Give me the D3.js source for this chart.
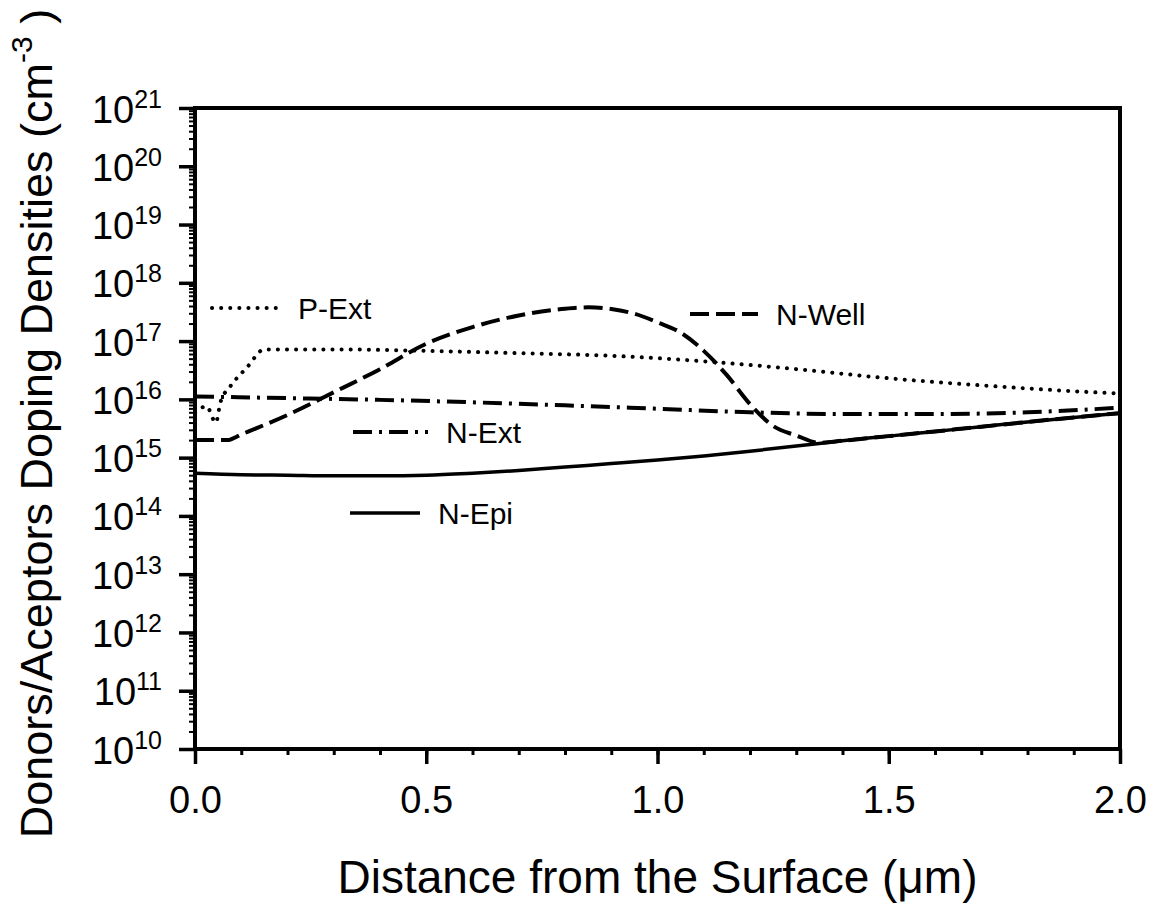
<!DOCTYPE html>
<html>
<head>
<meta charset="utf-8">
<script src="https://cdn.jsdelivr.net/npm/d3@7"></script>
<style>
  body { margin: 0; background: #fff; }
  text { font-family: "Liberation Sans", Arial, sans-serif; fill: #000; }
</style>
</head>
<body>
<svg id="chart" width="1159" height="911"></svg>
<script>
// ---- data (x in µm, doping in cm^-3) ----
const nEpiX = [0, 0.1, 0.2, 0.3, 0.4, 0.5, 0.6, 0.7, 0.8, 0.9, 1.0, 1.1, 1.2, 1.3, 1.4, 1.5, 1.6, 1.7, 1.8, 1.9, 2.0];
const nEpiY = [5.4e14, 5.1e14, 5.0e14, 4.9e14, 4.9e14, 5.0e14, 5.4e14, 6.0e14, 6.9e14, 7.9e14, 9.1e14, 1.07e15, 1.29e15, 1.58e15, 1.95e15, 2.34e15, 2.82e15, 3.39e15, 4.1e15, 4.9e15, 5.8e15];

const nExtX = [0, 0.2, 0.4, 0.6, 0.8, 1.0, 1.2, 1.4, 1.6, 1.8, 2.0];
const nExtY = [1.12e16, 1.05e16, 9.8e15, 8.9e15, 7.9e15, 6.9e15, 6.0e15, 5.6e15, 5.6e15, 6.0e15, 7.2e15];

const pExtX = [0, 0.025, 0.045, 0.055, 0.076, 0.112, 0.15, 0.3, 0.5, 0.7, 0.9, 1.1, 1.3, 1.5, 1.7, 1.9, 2.0];
const pExtY = [6.0e15, 7.6e15, 4.0e15, 8.9e15, 1.66e16, 3.5e16, 7.2e16, 7.2e16, 6.8e16, 6.2e16, 5.6e16, 4.5e16, 3.3e16, 2.3e16, 1.74e16, 1.38e16, 1.26e16];

const nWellX = [0, 0.07, 0.1, 0.2, 0.3, 0.4, 0.5, 0.6, 0.7, 0.8, 0.85, 0.9, 0.95, 1.0, 1.05, 1.1, 1.15, 1.2, 1.25, 1.3, 1.35, 1.4, 1.5, 1.6, 1.7, 1.8, 1.9, 2.0];
const nWellY = [2.0e15, 2.0e15, 2.5e15, 5.4e15, 1.32e16, 3.3e16, 9.0e16, 1.74e17, 2.75e17, 3.6e17, 3.8e17, 3.55e17, 2.95e17, 2.1e17, 1.4e17, 6.8e16, 2.6e16, 8.3e15, 3.5e15, 2.4e15, 1.8e15, 1.95e15, 2.34e15, 2.82e15, 3.39e15, 4.1e15, 4.9e15, 5.8e15];

const seriesNames = ["P-Ext", "N-Well", "N-Ext", "N-Epi"];
const xTickLabels = [0, 0.5, 1.0, 1.5, 2.0];
const yExponents = [10, 11, 12, 13, 14, 15, 16, 17, 18, 19, 20, 21];
const xTitle = "Distance from the Surface (\u03BCm)";
const yTitle = "Donors/Aceptors Doping Densities (cm";

// ---- layout ----
const svg = d3.select("#chart");
const L = 195, R = 1120, T = 108, B = 749;

const x = d3.scaleLinear().domain([0, 2]).range([L, R]);
const y = d3.scaleLog().domain([1e10, 1e21]).range([B, T]);

const styles = {
  "P-Ext":  { dash: "0.1,9", width: 4, cap: "round" },
  "N-Well": { dash: "19,7", width: 4, cap: "butt" },
  "N-Ext":  { dash: "19,7,3,7", width: 4, cap: "butt" },
  "N-Epi":  { dash: null, width: 3.5, cap: "butt" }
};

const data = {
  "P-Ext": pExtX.map((v, i) => [v, pExtY[i]]),
  "N-Well": nWellX.map((v, i) => [v, nWellY[i]]),
  "N-Ext": nExtX.map((v, i) => [v, nExtY[i]]),
  "N-Epi": nEpiX.map((v, i) => [v, nEpiY[i]])
};

const line = d3.line().x(d => x(d[0])).y(d => y(d[1])).curve(d3.curveMonotoneX);

// curves
["N-Epi", "N-Ext", "N-Well", "P-Ext"].forEach(name => {
  const s = styles[name];
  svg.append("path")
    .datum(data[name])
    .attr("d", line)
    .attr("fill", "none")
    .attr("stroke", "#000")
    .attr("stroke-width", s.width)
    .attr("stroke-linecap", s.cap)
    .attr("stroke-dasharray", s.dash);
});

// frame
svg.append("rect").attr("x", L).attr("y", T).attr("width", R - L).attr("height", B - T)
  .attr("fill", "none").attr("stroke", "#000").attr("stroke-width", 4);

// x axis minor ticks
const xMinor = d3.range(0, 2.0001, 0.1).map(v => +v.toFixed(1));
svg.append("g").attr("transform", `translate(0,${B})`)
  .call(d3.axisBottom(x).tickValues(xMinor).tickSize(6).tickFormat(""))
  .call(g => g.select(".domain").remove())
  .call(g => g.selectAll("line").attr("stroke-width", 3));

// x axis major
svg.append("g").attr("transform", `translate(0,${B})`)
  .call(d3.axisBottom(x).tickValues(xTickLabels).tickSize(15).tickPadding(0).tickFormat(d3.format(".1f")))
  .call(g => g.select(".domain").remove())
  .call(g => g.selectAll("line").attr("stroke-width", 3.5))
  .call(g => g.selectAll("text").attr("font-size", 38).attr("font-family", "Liberation Sans, Arial, sans-serif")
      .attr("dy", null).attr("y", 64));

// y axis minor ticks
const yMinor = [];
for (let e = 10; e < 21; e++) for (let m = 2; m <= 9; m++) yMinor.push(m * Math.pow(10, e));
svg.append("g").attr("transform", `translate(${L},0)`)
  .call(d3.axisLeft(y).tickValues(yMinor).tickSize(6).tickFormat(""))
  .call(g => g.select(".domain").remove())
  .call(g => g.selectAll("line").attr("stroke-width", 2));

// y axis major
svg.append("g").attr("transform", `translate(${L},0)`)
  .call(d3.axisLeft(y).tickValues(yExponents.map(e => Math.pow(10, e))).tickSize(16).tickFormat(""))
  .call(g => g.select(".domain").remove())
  .call(g => g.selectAll("line").attr("stroke-width", 3.5))
  .call(g => g.selectAll(".tick text").each(function(d) {
    const t = d3.select(this);
    const ex = Math.round(Math.log10(d));
    t.attr("x", -33).attr("dy", null).attr("y", 14).attr("text-anchor", "end")
     .attr("font-family", "Liberation Sans, Arial, sans-serif");
    t.append("tspan").attr("font-size", 38).text("10");
    t.append("tspan").attr("font-size", 25).attr("dy", -15).text(ex);
  }));

// axis titles
svg.append("text").attr("x", (L + R) / 2).attr("y", 893).attr("text-anchor", "middle")
  .attr("font-size", 46).text(xTitle);

const yt = svg.append("text").attr("transform", `translate(52,${(T + B) / 2 - 5}) rotate(-90)`)
  .attr("text-anchor", "middle").attr("font-size", 45);
yt.append("tspan").text(yTitle);
yt.append("tspan").attr("font-size", 30).attr("dy", -20).text("-3");
yt.append("tspan").attr("dy", 20).text(" )");

// legend
const legend = [
  { name: "P-Ext", x1: 212, x2: 280, y: 308 },
  { name: "N-Well", x1: 690, x2: 758, y: 314 },
  { name: "N-Ext", x1: 353, x2: 428, y: 432 },
  { name: "N-Epi", x1: 350, x2: 420, y: 513 }
];
legend.forEach(l => {
  const s = styles[l.name];
  svg.append("line").attr("x1", l.x1).attr("x2", l.x2).attr("y1", l.y).attr("y2", l.y)
    .attr("stroke", "#000").attr("stroke-width", s.width).attr("stroke-linecap", s.cap)
    .attr("stroke-dasharray", s.dash);
  svg.append("text").attr("x", l.x2 + 18).attr("y", l.y + 11).attr("font-size", 30).text(l.name);
});
</script>
</body>
</html>
